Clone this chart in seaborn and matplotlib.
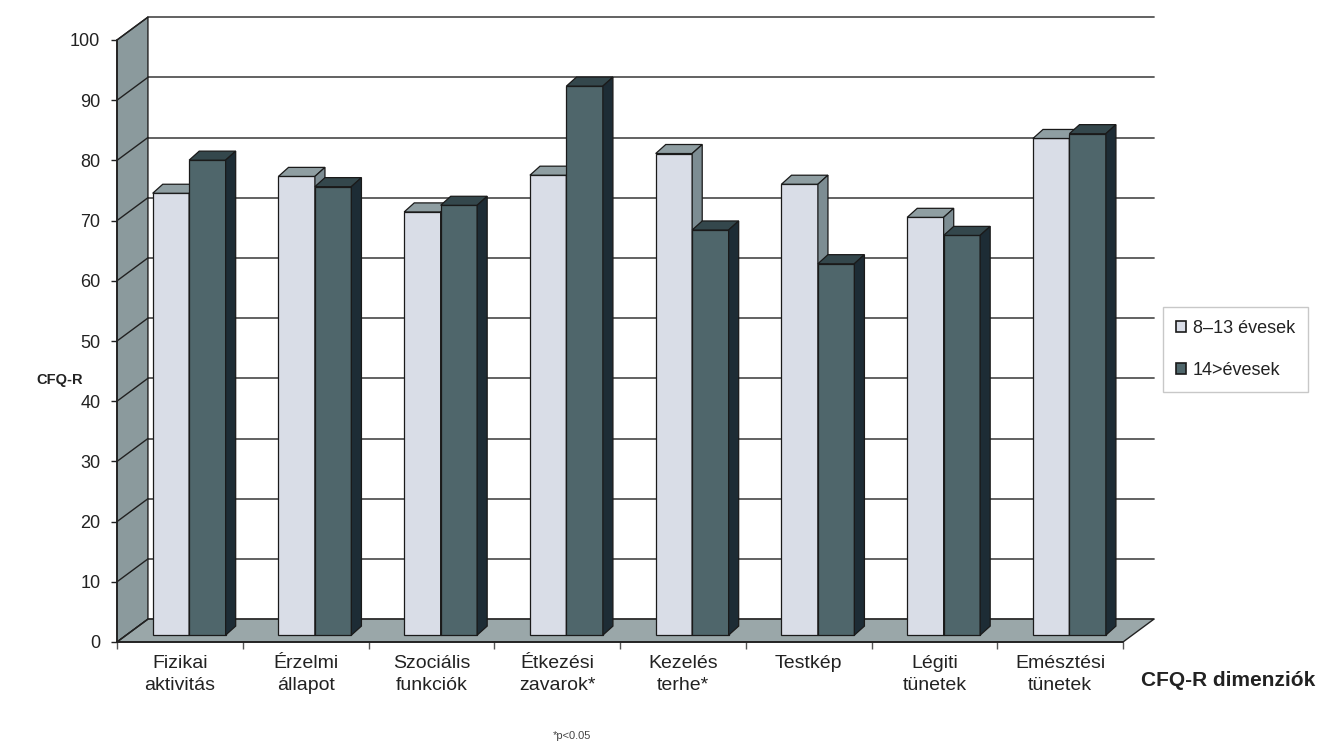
import matplotlib
matplotlib.use("Agg")
import matplotlib.pyplot as plt
from matplotlib.patches import Polygon, Patch, Rectangle
import numpy as np
import pandas as pd
import seaborn as sns

categories = ["Fizikai\naktivitás", "Érzelmi\nállapot", "Szociális\nfunkciók",
              "Étkezési\nzavarok*", "Kezelés\nterhe*", "Testkép",
              "Légiti\ntünetek", "Emésztési\ntünetek"]
groups = ["8–13 évesek", "14>évesek"]
young = [73.4, 76.2, 70.3, 76.4, 80.0, 74.9, 69.4, 82.5]
older = [78.9, 74.5, 71.4, 91.2, 67.3, 61.7, 66.4, 83.3]
yticks = list(range(0, 101, 10))

# colours: front / top / side of each series, walls
light = ("#d9dde7", "#8f9ea2", "#7d8d93")
dark = ("#4f666b", "#34474c", "#1d2c35")
wall = "#8b9a9d"
floor = "#9aa7a9"

sns.set_theme(style="white")
plt.rcParams["font.family"] = ["Liberation Sans", "DejaVu Sans"]

df = pd.DataFrame({
    "dim": categories * 2,
    "group": [groups[0]] * len(categories) + [groups[1]] * len(categories),
    "score": young + older,
})

fig = plt.figure(figsize=(13.19, 7.47), dpi=100)
ax = fig.add_axes([117 / 1319, 105 / 747, 1006 / 1319, 602 / 747])

sns.barplot(data=df, x="dim", y="score", hue="group", palette=[light[0], dark[0]],
            width=0.58, saturation=1, edgecolor="#1a1a1a", linewidth=0.9,
            legend=False, ax=ax)

# grab the seaborn bars before adding any other patches
bars = [p for p in ax.patches if isinstance(p, Rectangle) and p.get_height() > 0]
bars = sorted(bars, key=lambda p: p.get_x())

x0, x1 = -0.5, len(categories) - 0.5
ax.set_xlim(x0, x1)
ax.set_ylim(0, 100)

# pseudo 3D depth (data units): wall depth, bar position in depth, bar depth
DX, DY = 0.246, 3.8
fx, fy = 0.3 * DX, 0.3 * DY
bdx, bdy = 0.08, 1.5

# left wall and floor
ax.add_patch(Polygon([(x0, 0), (x0 + DX, DY), (x0 + DX, 100 + DY), (x0, 100)],
                     closed=True, fc=wall, ec="#222222", lw=1.0, zorder=0.5, clip_on=False))
ax.add_patch(Polygon([(x0, 0), (x1, 0), (x1 + DX, DY), (x0 + DX, DY)],
                     closed=True, fc=floor, ec="#222222", lw=1.0, zorder=0.6, clip_on=False))
for v in yticks:
    ax.plot([x0 + DX, x1 + DX], [v + DY, v + DY], color="#555555", lw=1.3,
            zorder=0.4, clip_on=False)
    ax.plot([x0, x0 + DX], [v, v + DY], color="#222222", lw=1.0,
            zorder=0.7, clip_on=False)
ax.plot([x0, x1], [0, 0], color="#222222", lw=1.3, zorder=0.8, clip_on=False)
ax.plot([x0, x0], [0, 100], color="#222222", lw=1.3, zorder=0.8, clip_on=False)

# turn the flat bars into boxes
light_rgb = matplotlib.colors.to_rgb(light[0])
for i, p in enumerate(bars):
    x, w, h = p.get_x() + fx, p.get_width(), p.get_height()
    shades = light if np.allclose(p.get_facecolor()[:3], light_rgb, atol=0.01) else dark
    z = 2 + i * 0.1
    p.set_x(x)
    p.set_y(fy)
    p.set_zorder(z)
    p.set_clip_on(False)
    top = [(x, fy + h), (x + w, fy + h), (x + w + bdx, fy + h + bdy), (x + bdx, fy + h + bdy)]
    side = [(x + w, fy), (x + w + bdx, fy + bdy), (x + w + bdx, fy + h + bdy), (x + w, fy + h)]
    ax.add_patch(Polygon(top, closed=True, fc=shades[1], ec="#1a1a1a", lw=0.9,
                         zorder=z + 0.01, clip_on=False))
    ax.add_patch(Polygon(side, closed=True, fc=shades[2], ec="#1a1a1a", lw=0.9,
                         zorder=z + 0.01, clip_on=False))

for s in ax.spines.values():
    s.set_visible(False)
ax.grid(False)
ax.set_yticks(yticks)
ax.set_yticklabels([str(v) for v in yticks])
ax.set_xticks(range(len(categories)))
ax.set_xticklabels(categories, linespacing=1.4)
ax.set_xticks(np.arange(x0, x1 + 0.01, 1), minor=True)
ax.tick_params(axis="y", length=4, width=1, color="#222222", labelsize=13,
               pad=8, labelcolor="#222222", left=True)
ax.tick_params(axis="x", which="major", length=0, pad=9, labelsize=14,
               labelcolor="#222222")
ax.tick_params(axis="x", which="minor", length=5, width=1, color="#555555", bottom=True)
ax.set_xlabel("")
ax.set_ylabel("")

fig.text(60 / 1319, 367 / 747, "CFQ-R", fontsize=10.5, fontweight="bold",
         ha="center", va="center", color="#222222")
fig.text(1228 / 1319, 66 / 747, "CFQ-R dimenziók", fontsize=15, fontweight="bold",
         ha="center", va="center", color="#222222")
fig.text(572 / 1319, 6 / 747, "*p<0.05", fontsize=8, ha="center", va="bottom",
         color="#444444")

handles = [Patch(fc=light[0], ec="#1a1a1a", lw=1.2), Patch(fc=dark[0], ec="#1a1a1a", lw=1.2)]
leg = fig.legend(handles, groups, loc="upper left", bbox_to_anchor=(1163 / 1319, 440 / 747),
                 frameon=True, fancybox=False, edgecolor="#bbbbbb", fontsize=13,
                 handlelength=0.55, handleheight=0.55, handletextpad=0.4,
                 labelspacing=1.4, borderpad=0.7, borderaxespad=0)
for t in leg.get_texts():
    t.set_color("#222222")

fig.savefig("out.png", dpi=100)
